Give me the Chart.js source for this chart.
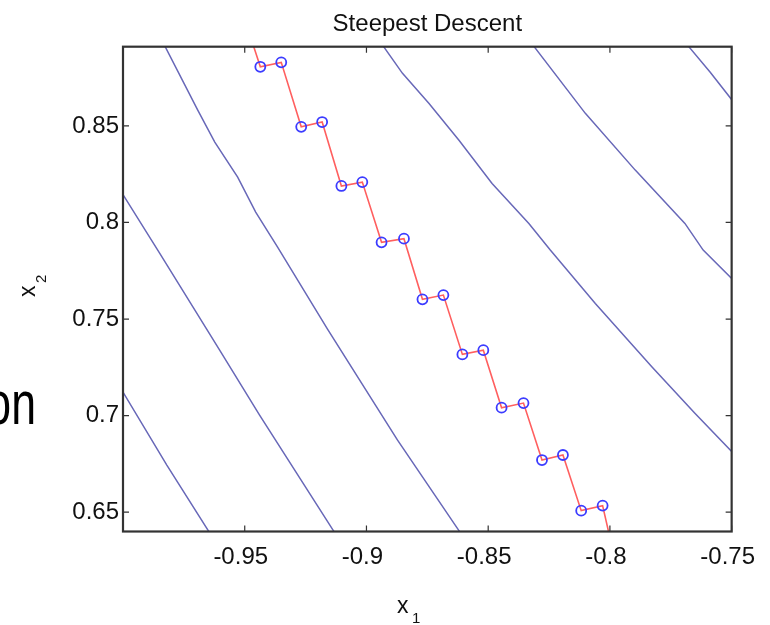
<!DOCTYPE html>
<html>
<head>
<meta charset="utf-8">
<script src="https://cdn.jsdelivr.net/npm/chart.js@4.4.1/dist/chart.umd.min.js"></script>
<style>
  html, body { margin: 0; padding: 0; background: #fff; }
  #wrap { width: 770px; height: 625px; }
</style>
</head>
<body>
<div id="wrap"><canvas id="chart" width="770" height="625"></canvas></div>
<script>
// axis ranges and ticks
const xMin = -1.0;
const xMax = -0.75;
const yMin = 0.64;
const yMax = 0.891;
const xTicks = [-0.95, -0.9, -0.85, -0.8, -0.75];
const yTicks = [0.65, 0.7, 0.75, 0.8, 0.85];

// steepest descent iterates (first and last entries run past the frame)
const pathX = [-0.9492, -0.9436, -0.935, -0.9268, -0.9182, -0.9103, -0.9017, -0.8938, -0.8846, -0.877, -0.8684, -0.8606, -0.852, -0.8445, -0.8355, -0.8279, -0.8193, -0.8118, -0.803, -0.7993];
const pathY = [0.9022, 0.8806, 0.8829, 0.8495, 0.852, 0.8189, 0.8209, 0.7897, 0.7916, 0.7602, 0.7624, 0.7317, 0.7339, 0.7041, 0.7065, 0.677, 0.6796, 0.6508, 0.6534, 0.633];

// contour lines, left to right
const contourAX = [-1.0, -0.982, -0.9636];
const contourAY = [0.7122, 0.6744, 0.6377];
const contourBX = [-1.0, -0.9849, -0.9603, -0.9439, -0.9132];
const contourBY = [0.8144, 0.784, 0.7339, 0.7003, 0.6397];
const contourCX = [-0.9832, -0.9693, -0.9623, -0.9529, -0.9455, -0.9365, -0.9160, -0.8873, -0.8616];
const contourCY = [0.8923, 0.8582, 0.8416, 0.8235, 0.8054, 0.7872, 0.7448, 0.6874, 0.6397];
const contourDX = [-0.8931, -0.8852, -0.8743, -0.862, -0.8484, -0.8333, -0.8245, -0.806, -0.7828, -0.7651, -0.7498];
const contourDY = [0.8913, 0.8772, 0.8616, 0.8426, 0.8202, 0.7995, 0.7857, 0.7581, 0.7253, 0.7012, 0.6812];
const contourEX = [-0.8313, -0.8101, -0.7896, -0.7692, -0.7617, -0.7498];
const contourEY = [0.8913, 0.8565, 0.8271, 0.7995, 0.7857, 0.7707];
const contourFX = [-0.7678, -0.7588, -0.7498];
const contourFY = [0.8913, 0.8778, 0.8633];

const toPoints = (xs, ys) => xs.map((x, i) => ({ x: x, y: ys[i] }));

const contourColor = "rgb(104, 104, 184)";
const contours = [
  [contourAX, contourAY],
  [contourBX, contourBY],
  [contourCX, contourCY],
  [contourDX, contourDY],
  [contourEX, contourEY],
  [contourFX, contourFY],
].map(([xs, ys]) => ({
  data: toPoints(xs, ys),
  showLine: true,
  borderColor: contourColor,
  borderWidth: 1.5,
  pointRadius: 0,
  clip: 0,
  order: 2,
}));

const lastIdx = pathX.length - 1;
const labelFont = "'Liberation Sans', Arial, sans-serif";

// box, inward ticks, title and axis labels
const decorations = {
  id: "decorations",
  afterDraw(chart) {
    const { ctx, chartArea: a, scales } = chart;
    ctx.save();
    ctx.strokeStyle = "#333";
    ctx.lineWidth = 1.2;
    ctx.beginPath();
    xTicks.forEach((v) => {
      const px = scales.x.getPixelForValue(v);
      ctx.moveTo(px, a.bottom);
      ctx.lineTo(px, a.bottom - 6);
      ctx.moveTo(px, a.top);
      ctx.lineTo(px, a.top + 6);
    });
    yTicks.forEach((v) => {
      const py = scales.y.getPixelForValue(v);
      ctx.moveTo(a.left, py);
      ctx.lineTo(a.left + 6, py);
      ctx.moveTo(a.right, py);
      ctx.lineTo(a.right - 6, py);
    });
    ctx.stroke();
    ctx.lineWidth = 2.2;
    ctx.strokeRect(a.left, a.top, a.right - a.left, a.bottom - a.top);

    ctx.fillStyle = "#111";
    ctx.font = "24px " + labelFont;
    ctx.textAlign = "center";
    ctx.textBaseline = "alphabetic";
    ctx.fillText("Steepest Descent", (a.left + a.right) / 2, 31);

    // x1
    ctx.textAlign = "left";
    ctx.font = "23px " + labelFont;
    ctx.fillText("x", 397, 613);
    ctx.font = "15px " + labelFont;
    ctx.fillText("1", 412, 623);

    // x2, rotated
    ctx.save();
    ctx.translate(35, 297);
    ctx.rotate(-Math.PI / 2);
    ctx.font = "23px " + labelFont;
    ctx.fillText("x", 0, 0);
    ctx.font = "15px " + labelFont;
    ctx.fillText("2", 14, 11);
    ctx.restore();

    // leftover slide text behind the figure
    ctx.save();
    ctx.fillStyle = "#000";
    ctx.translate(36, 424);
    ctx.scale(0.72, 1);
    ctx.textAlign = "right";
    ctx.font = "62px " + labelFont;
    ctx.fillText("on", 0, 0);
    ctx.restore();

    ctx.restore();
  },
};

Chart.defaults.font.family = labelFont;
Chart.defaults.font.size = 24;
Chart.defaults.color = "#111";

const chart = new Chart(document.getElementById("chart"), {
  type: "scatter",
  data: {
    datasets: [
      {
        data: toPoints(pathX, pathY),
        showLine: true,
        borderColor: "rgb(255, 95, 95)",
        borderWidth: 1.6,
        pointRadius: (c) => (c.dataIndex === 0 || c.dataIndex === lastIdx ? 0 : 5),
        pointBorderColor: "rgb(60, 60, 255)",
        pointBackgroundColor: "rgba(0,0,0,0)",
        pointBorderWidth: 1.8,
        clip: 0,
        order: 0,
      },
      ...contours,
    ],
  },
  options: {
    responsive: false,
    animation: false,
    devicePixelRatio: 1,
    layout: { padding: { left: 0, right: 36.5, top: 46.7, bottom: 0 } },
    plugins: {
      legend: { display: false },
      tooltip: { enabled: false },
      title: { display: false },
    },
    scales: {
      x: {
        type: "linear",
        min: xMin,
        max: xMax,
        grid: { display: false, drawTicks: false },
        border: { display: false },
        afterBuildTicks: (axis) => {
          axis.ticks = xTicks.map((v) => ({ value: v }));
        },
        afterFit: (scale) => {
          scale.height = 93.5;
        },
        ticks: {
          padding: 11,
          labelOffset: -4,
          maxRotation: 0,
          autoSkip: false,
          callback: (v) => String(v),
        },
      },
      y: {
        type: "linear",
        min: yMin,
        max: yMax,
        grid: { display: false, drawTicks: false },
        border: { display: false },
        afterBuildTicks: (axis) => {
          axis.ticks = yTicks.map((v) => ({ value: v }));
        },
        afterFit: (scale) => {
          scale.width = 123;
        },
        ticks: {
          padding: 4,
          autoSkip: false,
          callback: (v) => String(v),
        },
      },
    },
  },
  plugins: [decorations],
});
</script>
</body>
</html>
